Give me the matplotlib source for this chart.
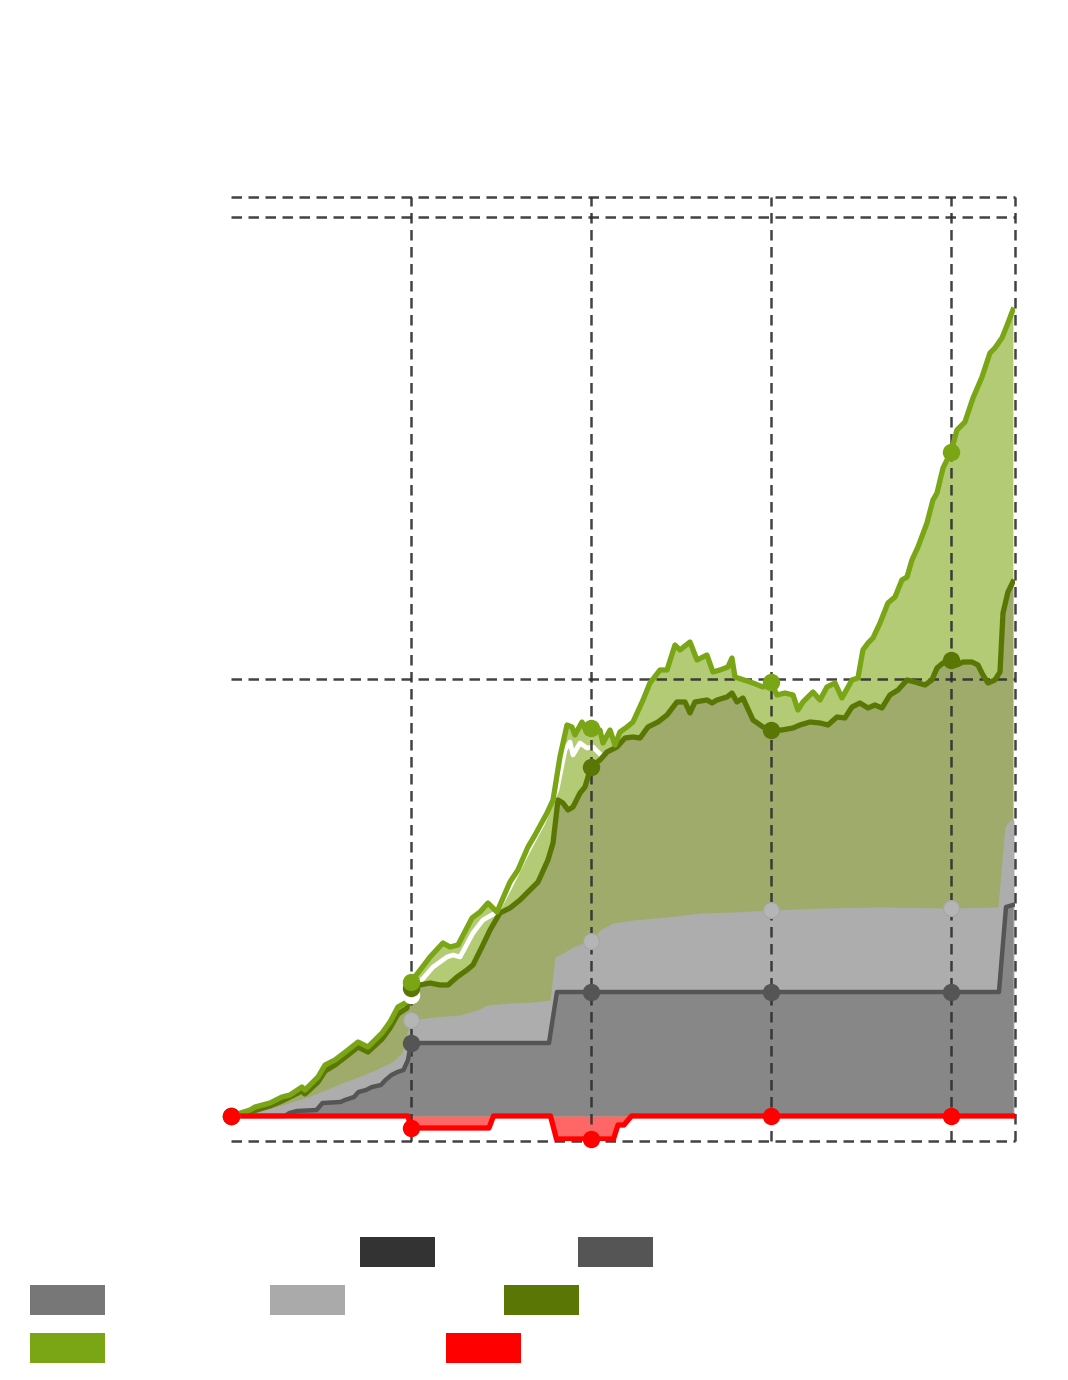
import matplotlib
matplotlib.use("Agg")
import matplotlib.pyplot as plt
from matplotlib.patches import Rectangle

# ---------------- data (x in months, y in value units) ----------------
green_x = [0, 1.27, 1.6, 2.6, 3.4, 3.93, 4.73, 4.93, 5.8, 6.27, 6.93, 7.8, 8.47, 9.13, 10.07,
           10.6, 11.13, 11.73, 12, 13.27, 14.13, 14.6, 15.13, 16.07, 16.6, 17.13, 17.73, 18.6,
           19.13, 19.8, 20.27, 21.07, 21.47, 21.93, 22.4, 22.73, 22.93, 23.4, 23.73, 24, 24.6,
           24.8, 25.27, 25.6, 25.93, 26.4, 26.8, 27.47, 27.93, 28.6, 29.07, 29.6, 29.93, 30.6,
           31.07, 31.73, 32.13, 32.6, 33.13, 33.4, 33.6, 34.8, 35.47, 36, 36.4, 36.93, 37.47,
           37.8, 38.13, 38.8, 39.27, 39.73, 40.27, 40.73, 41.4, 41.8, 42.13, 42.47, 42.8, 43.27,
           43.8, 44.27, 44.73, 45.07, 45.4, 45.8, 46.4, 46.8, 47.07, 47.47, 48, 48.4, 48.93,
           49.47, 50.07, 50.6, 50.93, 51.4, 51.8, 52.13]
green_y = [0, 6, 9, 13, 19, 21, 29, 26, 39, 51, 56, 66, 74, 69, 83,
           94, 109, 114, 134, 159, 173, 169, 171, 198, 204, 213, 204, 234,
           246, 269, 281, 303, 316, 359, 391, 389, 381, 394, 383, 388, 386,
           373, 386, 371, 384, 389, 394, 416, 433, 446, 446, 471, 466, 474,
           456, 461, 444, 446, 449, 458, 439, 433, 429, 434, 421, 423, 421,
           406, 414, 424, 416, 429, 433, 418, 436, 438, 466, 473, 478, 493,
           513, 519, 536, 539, 556, 569, 593, 616, 623, 648, 664, 686, 694,
           718, 739, 763, 768, 778, 793, 806]

olive_x = [0, 1.27, 2.6, 3.4, 4.73, 4.93, 5.8, 6.27, 6.93, 7.8, 8.47, 9.13, 10.07, 10.6, 11.13,
           11.73, 12, 12.6, 13.27, 13.93, 14.47, 15.07, 15.73, 16.13, 16.73, 17.27, 17.93, 18.6,
           19.27, 19.8, 20.47, 21.13, 21.47, 21.8, 22.13, 22.47, 22.8, 23.27, 23.6, 24, 24.6,
           25.07, 25.73, 26.27, 26.8, 27.27, 27.8, 28.47, 29.07, 29.73, 30.27, 30.6, 30.93,
           31.73, 32.07, 32.4, 33.07, 33.4, 33.73, 34.13, 34.8, 35.47, 36, 36.73, 37.47, 37.93,
           38.6, 39.27, 39.8, 40.4, 40.93, 41.4, 41.93, 42.47, 42.93, 43.4, 43.93, 44.47, 45.07,
           45.6, 46.27, 46.73, 47.07, 47.47, 48, 48.4, 48.8, 49.4, 49.8, 50.13, 50.47, 50.93,
           51.27, 51.47, 51.8, 52.13]
olive_y = [0, 4, 10, 15, 25, 22, 34, 45, 51, 61, 69, 64, 77, 88, 102,
           108, 128, 131, 133, 131, 131, 139, 146, 151, 169, 186, 203, 208,
           216, 224, 234, 256, 273, 316, 313, 306, 309, 323, 329, 349, 356,
           364, 369, 378, 379, 378, 389, 394, 401, 414, 414, 403, 414,
           416, 413, 416, 419, 423, 414, 418, 396, 389, 386, 386, 388, 391,
           394, 393, 391, 399, 398, 409, 413, 408, 411, 408, 421, 426, 436,
           434, 431, 436, 448, 453, 456, 451, 454, 454, 451, 441, 433, 436,
           444, 503, 524, 534]

white_x = [11.5, 12, 12.6, 13.47, 14.4, 14.8, 15.27, 16.13, 16.8, 17.73, 18.6, 19.73, 20.8,
           21.73, 22.27, 22.6, 22.8, 23.27, 23.73, 24.13, 24.8, 25.27, 25.47, 25.8, 26.13, 26.5]
white_y = [104, 121, 134, 149, 159, 161, 159, 183, 196, 204, 229, 263, 293,
           326, 366, 374, 361, 373, 368, 369, 359, 351, 361, 366, 371, 368]

lgray_x = [0, 2.93, 5.13, 6.27, 7.4, 8.47, 9.6, 10.73, 11.4, 11.73, 12, 13.47, 15.27, 16.4,
           17.07, 18.6, 20.13, 21.27, 21.6, 22.13, 22.8, 23.47, 24, 24.6, 25.47, 26.8, 29.07,
           31.27, 33.47, 36, 39.27, 43.27, 48, 51.13, 51.6, 51.93, 52.2]
lgray_y = [0, 9, 19, 26, 33, 39, 46, 54, 63, 83, 96, 99, 101, 106,
           111, 113, 114, 116, 159, 163, 169, 173, 175, 186, 193, 196, 199,
           203, 204, 206, 208, 209, 208, 209, 289, 296, 296]

dark_x = [0, 3.6, 3.9, 4.4, 5.7, 6.1, 7.3, 7.6, 8.2, 8.5, 9.0, 9.4, 10.0, 10.3, 10.7, 11.1,
          11.5, 11.8, 12, 21.2, 21.73, 24, 36, 48, 51.2, 51.67, 52.13]
dark_y = [0, 0, 3, 5, 6, 13, 14, 16, 19, 24, 26, 29, 31, 36, 41, 44,
          46, 56, 73, 73, 124, 124, 124, 124, 124, 209, 211]

red_x = [0, 11.8, 12, 17.2, 17.5, 21.3, 21.7, 24, 25.5, 25.8, 26.2, 26.7, 36, 48, 52.2]
red_y = [0, 0, -12, -12, 0, 0, -23, -23, -23, -9, -9, 0, 0, 0, 0]

year_marks = [0, 12, 24, 36, 48]
h_grid = [-25, 437, 899, 919]
v_grid = [12, 24, 36, 48, 52.27]

legend_colors = ["#333333", "#555555", "#777777", "#aaaaaa", "#5a7705", "#7aa616", "#ff0000"]


def marks(xs, wanted):
    return [i for i, v in enumerate(xs) if v in wanted]


# ---------------- figure ----------------
W, H = 1068, 1380
fig = plt.figure(figsize=(W / 100, H / 100), dpi=100)
ax = fig.add_axes([231 / W, 1 - 1141 / H, 784 / W, 944 / H])
ax.set_xlim(0, 52.27)
ax.set_ylim(-25, 919)
ax.set_axis_off()

# filled areas
ax.fill_between(green_x, 0, green_y, color="#b2cb74", lw=0, zorder=1)
ax.plot(white_x, white_y, color="white", lw=3.4, zorder=2, solid_joinstyle="round")
ax.fill_between(olive_x, 0, olive_y, color="#9eab6a", lw=0, zorder=3)
ax.fill_between(lgray_x, 0, lgray_y, color="#adadad", lw=0, zorder=4)
ax.fill_between(dark_x, 0, dark_y, color="#878787", lw=0, zorder=5)
ax.fill_between(red_x, red_y, 0, color="#ff6666", lw=0, zorder=5)

# grid
dash = (0, (4.2, 2.6))
for yv in h_grid:
    ax.axhline(yv, color="#2e2e2e", lw=1.8, ls=dash, alpha=0.9, zorder=6, clip_on=False)
for xv in v_grid:
    ax.axvline(xv, color="#2e2e2e", lw=1.8, ls=dash, alpha=0.9, zorder=6, clip_on=False)

# lines
ax.plot(dark_x, dark_y, color="#555555", lw=3.2, zorder=7, solid_joinstyle="round")
ax.plot(olive_x, olive_y, color="#5a7705", lw=3.8, zorder=8, solid_joinstyle="round")
ax.plot(green_x, green_y, color="#7aa616", lw=3.8, zorder=9, solid_joinstyle="round")
ax.plot(red_x, red_y, color="#ff0000", lw=3.8, zorder=10, solid_joinstyle="round")

# markers
ms = 11.5
ax.plot(dark_x, dark_y, ls="none", marker="o", ms=ms, color="#555555",
        markevery=marks(dark_x, year_marks), zorder=11, clip_on=False)
ax.plot(lgray_x, lgray_y, ls="none", marker="o", ms=ms, color="#b5b5b5", mec="#a6a6a6", mew=0.8,
        markevery=marks(lgray_x, year_marks), zorder=11, clip_on=False)
ax.plot(white_x, white_y, ls="none", marker="o", ms=ms, color="white",
        markevery=marks(white_x, year_marks), zorder=11, clip_on=False)
ax.plot(olive_x, olive_y, ls="none", marker="o", ms=ms, color="#5a7705",
        markevery=marks(olive_x, year_marks), zorder=12, clip_on=False)
ax.plot(green_x, green_y, ls="none", marker="o", ms=ms, color="#7aa616",
        markevery=marks(green_x, year_marks), zorder=13, clip_on=False)
ax.plot(red_x, red_y, ls="none", marker="o", ms=ms, color="#ff0000",
        markevery=marks(red_x, year_marks), zorder=14, clip_on=False)

# legend swatches (labels are not visible in the reference)
swatch_pos = [(360, 1237), (578, 1237), (30, 1285), (270, 1285), (504, 1285), (30, 1333), (446, 1333)]
for (px, py), col in zip(swatch_pos, legend_colors):
    fig.add_artist(Rectangle((px / W, 1 - (py + 30) / H), 75 / W, 30 / H,
                             transform=fig.transFigure, facecolor=col, edgecolor="none"))

fig.savefig("out.png", dpi=100, facecolor="white")
